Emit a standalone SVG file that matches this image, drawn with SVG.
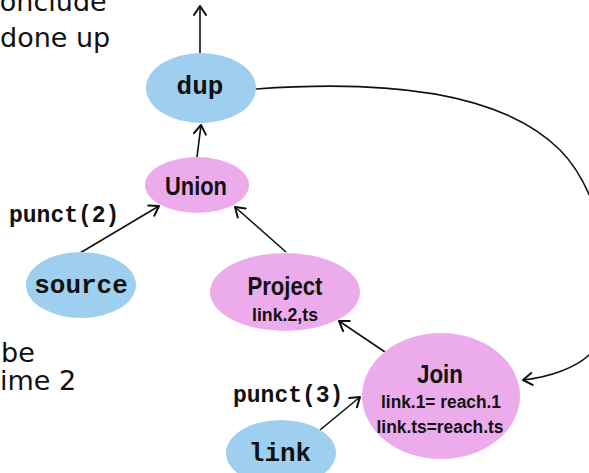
<svg xmlns="http://www.w3.org/2000/svg" width="589" height="473" viewBox="0 0 589 473">
  <style>
    .src { fill: #9fcfef; }
    .op { fill: #ecacec; }
    .mono { font-family: "Liberation Mono", "Courier New", monospace; font-weight: bold; fill: #111; }
    .lbl { font-size: 26px; text-anchor: middle; }
    .punct { font-size: 23px; }
    .head { font-family: "Liberation Sans", Arial, sans-serif; font-weight: bold; fill: #111; text-anchor: middle; }
    .title { font-size: 25px; }
    .sub { font-size: 18px; }
    .note { font-family: "DejaVu Sans", "Noto Sans", sans-serif; font-size: 27px; fill: #111; }
    .edge { fill: none; stroke: #111; stroke-width: 1.6; marker-end: url(#arrow); }
  </style>
  <defs>
    <marker id="arrow" markerUnits="userSpaceOnUse" markerWidth="14" markerHeight="14" viewBox="-12 -7 14 14" refX="0" refY="0" orient="auto">
      <path d="M-9,-6 L0,0 L-9,6" fill="none" stroke="#111" stroke-width="2" stroke-linecap="round" stroke-linejoin="round"/>
    </marker>
  </defs>

  <rect width="589" height="473" fill="#ffffff"/>

  <!-- surrounding slide text, clipped by the frame -->
  <g id="notes">
    <text class="note" x="-15" y="11">conclude</text>
    <text class="note" x="0" y="47">done up</text>
    <text class="note" x="1" y="362">be</text>
    <text class="note" x="0" y="390">ime 2</text>
  </g>

  <!-- connectors -->
  <g id="connectors">
    <path class="edge" d="M200,53 L200,6"/>
    <path class="edge" d="M197,157 L201,125"/>
    <path class="edge" d="M80,253 L159,206"/>
    <path class="edge" d="M286,252 L235,207"/>
    <path class="edge" d="M385,352 L339,321"/>
    <path class="edge" d="M320,430 L360,397"/>
    <path class="edge" d="M256,89 C380,80 500,90 560,150 C610,200 625,320 589,355 C575,368 550,377 523,380"/>
  </g>

  <g id="dup">
    <ellipse class="src" cx="201" cy="88" rx="55" ry="35"/>
    <text class="mono lbl" x="200" y="94">dup</text>
  </g>

  <g id="union">
    <ellipse class="op" cx="197" cy="185" rx="52" ry="28"/>
    <text class="head title" x="196" y="195" textLength="62" lengthAdjust="spacingAndGlyphs">Union</text>
  </g>

  <g id="source">
    <ellipse class="src" cx="81" cy="285" rx="55" ry="33"/>
    <text class="mono lbl" x="81" y="293">source</text>
  </g>

  <g id="project">
    <ellipse class="op" cx="285" cy="292" rx="75" ry="39"/>
    <text class="head title" x="285" y="295" textLength="75" lengthAdjust="spacingAndGlyphs">Project</text>
    <text class="head sub" x="285" y="321" textLength="66" lengthAdjust="spacingAndGlyphs">link.2,ts</text>
  </g>

  <g id="join">
    <ellipse class="op" cx="441" cy="396" rx="79" ry="63"/>
    <text class="head title" x="440" y="383" textLength="46" lengthAdjust="spacingAndGlyphs">Join</text>
    <text class="head sub" x="441" y="408" textLength="120" lengthAdjust="spacingAndGlyphs">link.1= reach.1</text>
    <text class="head sub" x="440" y="433" textLength="127" lengthAdjust="spacingAndGlyphs">link.ts=reach.ts</text>
  </g>

  <g id="link">
    <ellipse class="src" cx="281" cy="453" rx="55" ry="33"/>
    <text class="mono lbl" x="280" y="461">link</text>
  </g>

  <g id="punct-labels">
    <text class="mono punct" x="9" y="222">punct(2)</text>
    <text class="mono punct" x="233" y="402">punct(3)</text>
  </g>
</svg>
